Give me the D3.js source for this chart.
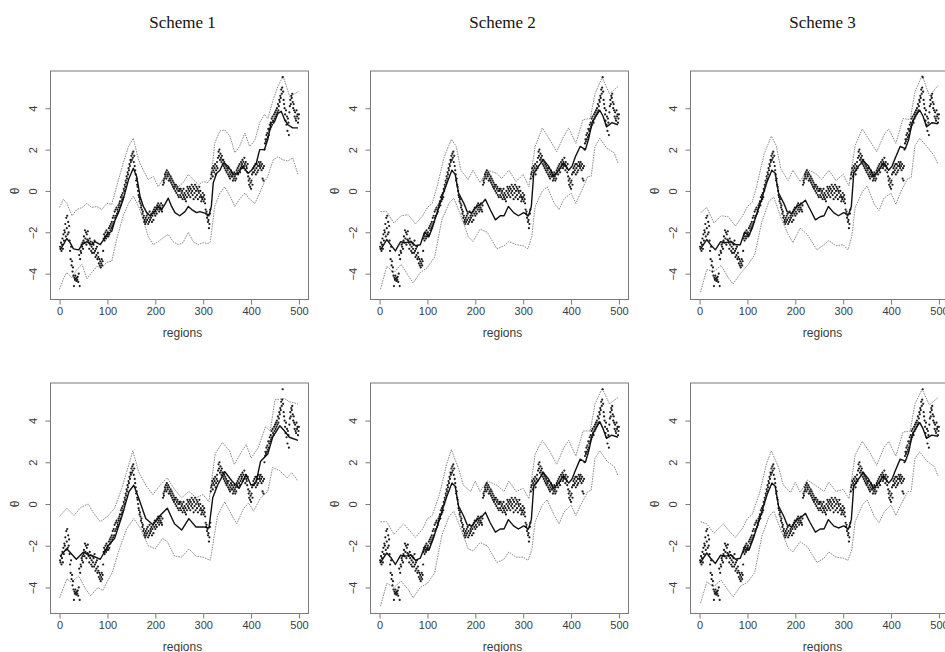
<!DOCTYPE html>
<html>
<head>
<meta charset="utf-8">
<script src="https://cdn.jsdelivr.net/npm/d3@7"></script>
<style>
  body { margin: 0; background: #fff; }
  svg { display: block; }
</style>
</head>
<body>
<svg id="chart" width="945" height="652"></svg>
<script>
// Column headings
const schemeTitles = ["Scheme 1", "Scheme 2", "Scheme 3"];
const xTicks = [0, 100, 200, 300, 400, 500];
const yTicks = [-4, -2, 0, 2, 4];
const xLabel = "regions";
const yLabel = "θ";

// True theta for regions 1..500 (dots)
const trueTheta = [
  -2.7,-2.8,-2.5,-2.9,-2.6,-2.3,-2.8,-2.1,-2.4,-1.9,
  -2.0,-1.6,-2.2,-1.3,-1.8,-1.2,-2.1,-1.5,-2.0,-1.7,
  -2.4,-2.9,-3.3,-2.7,-3.6,-3.4,-3.9,-3.7,-4.1,-4.6,
  -4.2,-4.3,-4.1,-4.25,-4.35,-4.2,-4.3,-4.15,-4.4,-4.0,
  -3.1,-4.6,-3.3,-2.9,-3.0,-2.6,-2.7,-2.5,-2.8,-2.4,
  -2.2,-2.5,-1.9,-2.3,-2.0,-2.6,-2.1,-2.35,-1.95,-2.4,
  -2.5,-2.8,-2.3,-2.6,-2.45,-2.9,-2.7,-3.0,-2.5,-2.8,
  -2.6,-3.0,-2.4,-2.9,-3.2,-2.8,-3.1,-2.7,-3.3,-3.0,
  -3.2,-3.5,-3.3,-3.6,-3.4,-3.7,-3.5,-3.3,-3.6,-3.4,
  -2.9,-2.3,-2.1,-2.4,-2.2,-2.0,-2.3,-1.9,-2.2,-2.1,
  -2.0,-2.2,-1.8,-2.1,-1.7,-1.9,-1.6,-1.8,-1.5,-1.7,
  -1.3,-1.6,-1.2,-1.5,-1.0,-1.3,-0.9,-1.2,-0.8,-1.1,
  -0.9,-1.0,-0.7,-0.8,-0.6,-0.5,-0.7,-0.3,-0.5,-0.2,
  -0.4,-0.1,-0.3,0.1,0.0,0.3,0.2,0.5,0.4,0.7,
  0.6,0.9,0.8,1.1,1.0,1.3,1.2,1.5,1.4,1.7,
  1.5,1.8,1.6,1.9,1.4,1.7,1.2,1.0,0.8,0.5,
  0.6,0.3,0.2,0.0,-0.2,-0.3,-0.5,-0.4,-0.6,-0.8,
  -0.7,-0.9,-1.1,-1.0,-1.3,-1.2,-1.5,-1.4,-1.6,-1.3,
  -1.5,-1.2,-1.4,-1.1,-1.6,-1.3,-1.5,-1.0,-1.4,-1.2,
  -1.3,-1.1,-1.5,-1.2,-1.0,-1.4,-0.9,-1.1,-0.8,-1.2,
  -1.0,-0.8,-1.1,-0.7,-0.9,-0.6,-0.8,-1.0,-0.7,-0.9,
  -0.8,-0.6,-0.9,-1.0,-0.7,0.3,0.5,0.4,0.6,0.8,
  0.7,0.9,0.6,1.0,0.8,0.7,0.9,0.5,0.8,0.6,
  0.5,0.7,0.4,0.6,0.3,0.5,0.2,0.4,0.1,0.3,
  0.2,0.0,0.3,-0.1,0.1,0.2,-0.2,0.0,-0.3,0.1,
  0.0,-0.2,0.1,-0.3,-0.1,0.0,-0.4,-0.2,0.1,-0.3,
  -0.1,-0.4,-0.2,-0.5,0.0,-0.3,0.2,-0.1,0.1,-0.2,
  0.0,0.2,-0.3,0.1,-0.1,0.3,0.0,-0.2,0.2,-0.4,
  0.1,-0.1,0.3,-0.3,0.0,0.2,-0.2,0.1,-0.4,0.0,
  -0.1,0.2,-0.3,0.0,-0.2,-0.5,-0.3,-0.4,-0.1,-0.3,
  -0.5,-0.2,-0.4,-0.6,-0.9,-1.1,-1.0,-1.3,-1.2,-1.5,
  -1.4,-1.8,-1.6,-1.1,-0.9,0.6,0.8,0.9,1.1,0.7,
  1.0,1.2,0.9,1.1,1.3,0.8,1.0,1.2,1.4,1.1,
  1.6,1.9,1.7,2.0,1.5,1.8,1.6,1.4,1.7,1.5,
  1.3,1.5,1.2,1.4,1.1,1.3,1.0,1.2,0.9,1.1,
  1.0,0.8,1.1,0.7,0.9,0.6,0.8,1.0,0.7,0.9,
  0.7,0.5,0.8,0.6,0.9,0.7,0.5,0.8,0.6,1.0,
  0.9,1.1,0.8,1.2,1.0,1.3,0.9,1.1,1.4,1.2,
  1.3,1.5,1.1,1.4,1.2,1.6,1.3,1.0,1.4,1.2,
  1.1,0.9,1.3,0.7,0.5,0.3,0.6,0.2,0.4,0.1,
  0.5,0.8,0.3,0.9,1.1,0.9,1.2,1.0,1.3,0.8,
  1.1,1.3,0.9,1.2,1.0,1.4,1.2,1.3,1.1,1.4,
  1.2,1.0,1.3,0.6,1.1,0.5,1.2,2.0,2.3,2.5,
  2.4,2.7,2.5,2.8,2.6,3.0,2.7,2.9,3.2,3.0,
  3.3,3.1,3.5,3.2,3.6,3.4,3.3,3.7,3.5,3.8,
  3.6,3.9,3.7,4.0,3.8,4.2,3.9,4.1,4.4,4.3,
  4.6,4.5,4.9,4.7,5.0,5.5,4.8,4.4,4.2,4.0,
  3.7,3.4,3.9,3.2,3.6,2.9,3.5,3.3,2.7,3.8,
  4.1,4.4,4.2,4.6,4.5,4.7,4.3,4.0,4.2,3.9,
  3.6,3.8,3.5,3.4,3.9,3.6,3.7,3.3,3.5,3.7
];

// Posterior summaries as [region, value] pairs
const top1Mean = [[1,-2.85],[8,-2.6],[15,-2.3],[22,-2.5],[29,-2.8],[40,-2.85],[47,-2.6],[57,-2.45],[67,-2.6],[74,-2.45],[85,-2.6],[92,-2.35],[99,-2.1],[109,-1.95],[116,-1.4],[123,-1.05],[133,-0.4],[144,0.55],[154,1.1],[161,0.7],[168,-0.25],[175,-0.75],[182,-1.05],[189,-1.2],[199,-0.98],[206,-0.75],[213,-0.9],[220,-0.65],[227,-0.35],[234,-0.75],[241,-1.05],[251,-1.2],[262,-1.0],[269,-0.75],[276,-0.9],[286,-1.05],[293,-1.0],[300,-1.05],[307,-1.1],[312,-1.2],[317,-0.75],[321,0.4],[328,0.85],[335,1.0],[342,1.35],[352,1.2],[362,0.8],[373,0.85],[383,1.2],[394,0.85],[401,1.0],[411,1.35],[418,2.0],[428,2.0],[435,2.5],[442,3.3],[449,3.35],[456,3.75],[463,3.85],[470,3.45],[477,3.2],[487,3.05],[498,3.05]];
const top1Upper = [[0,-0.8],[8,-0.4],[15,-0.6],[26,-1.2],[36,-0.9],[47,-0.8],[57,-0.6],[67,-0.8],[78,-0.75],[88,-0.9],[99,-0.6],[109,-0.65],[119,0.2],[133,1.35],[144,2.15],[154,2.55],[165,1.5],[175,1.0],[185,0.55],[196,0.7],[206,0.2],[217,0.6],[227,0.85],[237,0.45],[248,0.2],[258,0.4],[269,0.8],[279,0.55],[290,0.3],[300,0.45],[310,0.4],[317,0.7],[324,2.3],[335,2.9],[345,2.95],[356,2.65],[366,1.85],[376,2.15],[387,2.8],[397,2.15],[408,2.45],[418,3.3],[428,3.7],[435,3.5],[446,4.4],[456,5.05],[467,5.55],[474,5.05],[481,4.55],[491,4.7],[499,4.8]];
const top1Lower = [[0,-4.75],[8,-4.25],[15,-3.95],[26,-4.2],[36,-3.8],[47,-3.55],[57,-4.25],[67,-3.95],[78,-3.65],[88,-3.7],[99,-3.45],[109,-3.4],[119,-2.35],[133,-1.2],[144,-0.6],[154,-0.25],[165,-0.75],[175,-1.4],[185,-2.2],[196,-2.6],[206,-2.45],[217,-2.25],[227,-2.1],[237,-2.45],[248,-2.6],[258,-2.5],[269,-2.0],[279,-2.45],[290,-2.6],[300,-2.5],[310,-2.55],[315,-2.45],[324,-0.75],[335,-0.1],[345,0.2],[356,-0.25],[366,-0.75],[376,-0.4],[387,-0.1],[397,-0.4],[408,-0.6],[418,-0.1],[428,0.45],[435,0.7],[446,1.5],[456,1.65],[467,1.5],[477,1.45],[487,1.6],[498,0.8]];

const top2Mean = [[2,-2.85],[15,-2.35],[23,-2.6],[33,-2.9],[44,-2.45],[54,-2.5],[65,-2.45],[75,-2.65],[85,-2.6],[94,-2.0],[103,-2.2],[110,-1.8],[120,-1.05],[131,-0.25],[141,0.4],[151,1.0],[158,0.8],[165,-0.1],[176,-0.6],[183,-1.0],[193,-1.05],[203,-0.75],[214,-0.6],[221,-0.4],[231,-0.9],[242,-1.4],[252,-1.2],[260,-1.2],[269,-0.75],[280,-1.05],[290,-1.2],[301,-1.05],[311,-1.2],[317,-0.75],[322,0.85],[332,1.2],[342,1.5],[353,1.2],[363,0.7],[374,1.0],[384,1.35],[395,1.0],[402,1.2],[409,1.65],[419,2.15],[430,2.0],[437,2.55],[444,3.3],[451,3.6],[460,3.9],[467,3.6],[474,3.1],[485,3.3],[498,3.2]];
const top2Upper = [[2,-1.0],[15,-1.0],[30,-1.55],[45,-1.2],[60,-1.15],[75,-1.6],[90,-1.2],[100,-0.8],[110,-0.6],[120,0.2],[135,1.65],[150,2.5],[160,2.15],[170,1.0],[185,0.55],[195,1.0],[210,0.4],[225,1.0],[245,0.85],[255,0.6],[270,1.0],[285,0.45],[300,0.8],[312,0.2],[325,2.15],[340,3.05],[355,2.5],[370,1.9],[385,2.65],[395,3.05],[410,2.3],[425,3.45],[440,3.5],[450,4.7],[465,5.5],[480,4.7],[498,5.05]];
const top2Lower = [[2,-4.75],[15,-3.65],[30,-3.95],[45,-3.55],[60,-4.1],[70,-4.45],[85,-3.95],[100,-3.7],[115,-3.2],[130,-1.4],[145,-0.6],[155,-0.35],[170,-1.2],[185,-2.2],[195,-2.45],[210,-1.85],[225,-2.0],[245,-2.8],[260,-2.65],[270,-2.45],[285,-2.6],[300,-2.65],[310,-2.8],[318,-2.2],[325,-0.75],[340,0.0],[350,0.2],[365,-0.6],[375,-0.9],[385,-0.4],[400,-0.1],[410,-0.6],[420,-0.1],[435,0.7],[442,0.7],[450,2.15],[460,2.55],[475,2.05],[490,1.85],[498,1.35]];

const top3Mean = [[2,-2.8],[15,-2.35],[23,-2.6],[33,-2.85],[44,-2.45],[54,-2.5],[65,-2.45],[75,-2.6],[85,-2.6],[94,-2.0],[103,-2.15],[110,-1.8],[120,-1.05],[131,-0.3],[141,0.45],[151,1.0],[158,0.85],[165,-0.1],[176,-0.6],[183,-1.0],[193,-1.1],[203,-0.75],[214,-0.6],[221,-0.45],[231,-0.9],[242,-1.4],[252,-1.25],[260,-1.2],[269,-0.75],[280,-1.05],[290,-1.2],[301,-1.05],[311,-1.15],[317,-0.75],[322,0.85],[332,1.2],[342,1.45],[353,1.2],[363,0.7],[374,1.0],[384,1.35],[395,1.0],[402,1.2],[409,1.6],[419,2.15],[430,2.05],[437,2.5],[444,3.3],[451,3.65],[460,3.9],[467,3.6],[474,3.1],[485,3.3],[498,3.25]];
const top3Upper = [[2,-1.05],[15,-0.8],[30,-1.55],[45,-1.2],[60,-1.25],[75,-1.7],[90,-1.2],[100,-0.75],[110,-0.55],[120,0.3],[135,1.8],[150,2.65],[160,2.2],[170,1.05],[185,0.5],[195,1.0],[210,0.45],[225,1.05],[245,0.8],[255,0.55],[270,1.0],[285,0.5],[300,0.8],[312,0.25],[325,2.2],[340,3.0],[355,2.45],[370,1.9],[385,2.7],[395,3.0],[410,2.3],[425,3.5],[440,3.45],[450,4.8],[465,5.6],[480,4.6],[498,5.1]];
const top3Lower = [[2,-4.9],[15,-3.8],[30,-3.9],[45,-3.6],[60,-4.2],[70,-4.5],[85,-4.0],[100,-3.6],[115,-3.1],[130,-1.5],[145,-0.5],[155,-0.3],[170,-1.3],[185,-2.1],[195,-2.5],[210,-1.8],[225,-2.1],[245,-2.85],[260,-2.6],[270,-2.4],[285,-2.65],[300,-2.6],[310,-2.85],[318,-2.2],[325,-0.8],[340,-0.05],[350,0.25],[365,-0.65],[375,-0.95],[385,-0.35],[400,-0.1],[410,-0.65],[420,-0.05],[435,0.6],[442,0.65],[450,2.2],[460,2.55],[480,2.0],[490,1.7],[498,1.3]];

const bot1Mean = [[1,-2.5],[15,-2.15],[35,-2.65],[50,-2.3],[60,-2.45],[70,-2.5],[85,-2.65],[100,-2.05],[115,-1.65],[130,-0.6],[145,0.6],[155,0.9],[165,0.3],[180,-0.7],[195,-1.0],[210,-0.55],[225,-0.2],[240,-0.95],[255,-1.25],[270,-0.7],[285,-1.1],[300,-1.1],[312,-1.15],[320,0.3],[330,0.9],[345,1.55],[360,1.1],[375,0.75],[390,1.4],[400,0.9],[410,1.0],[420,2.05],[435,2.4],[445,3.2],[460,3.75],[470,3.5],[480,3.2],[498,3.05]];
const bot1Upper = [[0,-0.6],[15,-0.2],[30,-0.55],[45,-0.15],[60,0.0],[70,-0.4],[85,-0.85],[100,-0.6],[115,-0.2],[130,0.75],[145,1.9],[153,2.55],[165,1.55],[180,0.9],[195,0.45],[210,0.9],[225,1.25],[240,0.7],[255,0.3],[270,0.6],[285,0.3],[300,0.45],[312,0.1],[325,2.4],[340,2.95],[355,2.55],[365,1.9],[380,2.5],[390,2.85],[400,2.2],[415,2.7],[430,3.7],[440,3.5],[450,5.0],[470,5.05],[480,4.9],[498,4.8]];
const bot1Lower = [[0,-4.5],[15,-3.6],[25,-3.75],[40,-3.45],[55,-4.1],[65,-4.4],[80,-4.0],[90,-4.15],[100,-3.7],[110,-3.3],[125,-2.15],[140,-1.2],[155,-0.7],[170,-1.2],[185,-2.0],[200,-2.15],[215,-1.65],[225,-1.8],[240,-2.5],[255,-2.55],[270,-2.15],[285,-2.5],[300,-2.55],[315,-2.7],[330,-0.55],[345,0.1],[360,-0.55],[370,-0.95],[385,-0.2],[395,0.05],[405,-0.35],[420,0.3],[435,0.6],[445,1.75],[460,1.6],[475,1.25],[485,1.5],[498,1.1]];

const bot2Mean = [[2,-2.8],[15,-2.35],[23,-2.55],[33,-2.9],[44,-2.45],[54,-2.5],[65,-2.45],[75,-2.7],[85,-2.6],[94,-2.05],[103,-2.2],[110,-1.8],[120,-1.1],[131,-0.3],[141,0.4],[151,1.0],[158,0.85],[165,-0.1],[176,-0.6],[183,-1.0],[193,-1.05],[203,-0.75],[214,-0.6],[221,-0.4],[231,-0.9],[242,-1.35],[252,-1.2],[260,-1.2],[269,-0.75],[280,-1.05],[290,-1.2],[301,-1.05],[311,-1.2],[317,-0.75],[322,0.85],[332,1.15],[342,1.5],[353,1.2],[363,0.75],[374,1.0],[384,1.35],[395,1.0],[402,1.2],[409,1.6],[419,2.15],[430,2.0],[437,2.55],[444,3.3],[451,3.6],[460,3.95],[467,3.6],[474,3.15],[485,3.3],[498,3.2]];
const bot2Upper = [[2,-0.85],[15,-0.85],[30,-1.45],[50,-0.95],[60,-1.2],[75,-1.6],[90,-1.2],[100,-0.7],[110,-0.55],[125,0.45],[140,1.9],[150,2.6],[165,1.7],[175,0.9],[190,0.6],[200,1.1],[210,0.6],[225,1.1],[245,0.9],[260,0.6],[270,1.1],[285,0.6],[300,0.75],[312,0.25],[325,2.4],[340,3.05],[355,2.55],[370,1.9],[385,2.7],[395,3.05],[410,2.3],[425,3.5],[440,3.5],[450,4.8],[465,5.55],[480,4.8],[498,5.1]];
const bot2Lower = [[2,-4.9],[15,-3.8],[30,-4.0],[45,-3.7],[60,-4.1],[70,-4.5],[85,-4.0],[100,-3.8],[115,-3.3],[130,-1.5],[145,-0.6],[155,-0.35],[170,-1.2],[185,-2.15],[195,-2.25],[210,-1.85],[225,-2.0],[245,-2.8],[260,-2.65],[270,-2.3],[285,-2.55],[300,-2.55],[310,-2.7],[318,-2.2],[325,-0.85],[340,-0.05],[350,0.2],[365,-0.55],[375,-0.95],[385,-0.4],[400,-0.05],[410,-0.55],[420,-0.05],[435,0.6],[442,0.65],[450,2.2],[460,2.55],[475,2.05],[490,1.8],[498,1.35]];

const bot3Mean = [[2,-2.8],[15,-2.35],[23,-2.6],[33,-2.85],[44,-2.45],[54,-2.5],[65,-2.45],[75,-2.65],[85,-2.6],[94,-2.05],[103,-2.2],[110,-1.8],[120,-1.1],[131,-0.3],[141,0.45],[151,1.0],[158,0.85],[165,-0.1],[176,-0.6],[183,-1.0],[193,-1.1],[203,-0.75],[214,-0.6],[221,-0.45],[231,-0.9],[242,-1.35],[252,-1.2],[260,-1.2],[269,-0.75],[280,-1.05],[290,-1.15],[301,-1.05],[311,-1.2],[317,-0.75],[322,0.85],[332,1.2],[342,1.5],[353,1.2],[363,0.75],[374,1.0],[384,1.35],[395,1.0],[402,1.2],[409,1.6],[419,2.15],[430,2.05],[437,2.5],[444,3.3],[451,3.6],[460,3.9],[467,3.6],[474,3.15],[485,3.3],[498,3.25]];
const bot3Upper = [[2,-0.85],[15,-0.95],[30,-1.4],[50,-0.95],[60,-1.25],[75,-1.6],[90,-1.15],[100,-0.7],[110,-0.5],[125,0.5],[140,1.95],[150,2.55],[165,1.75],[175,0.9],[190,0.55],[200,1.05],[210,0.55],[225,1.15],[245,0.85],[260,0.6],[270,1.05],[285,0.6],[300,0.7],[312,0.25],[325,2.35],[340,3.0],[355,2.5],[370,1.85],[385,2.7],[395,3.0],[410,2.3],[425,3.45],[440,3.5],[450,4.8],[465,5.5],[480,4.75],[498,5.1]];
const bot3Lower = [[2,-4.75],[15,-3.75],[30,-3.95],[45,-3.65],[60,-4.15],[70,-4.45],[85,-3.95],[100,-3.75],[115,-3.3],[130,-1.55],[145,-0.6],[155,-0.35],[170,-1.25],[185,-2.1],[195,-2.3],[210,-1.8],[225,-2.05],[245,-2.8],[260,-2.6],[270,-2.3],[285,-2.55],[300,-2.6],[310,-2.7],[318,-2.2],[325,-0.85],[340,-0.05],[350,0.2],[365,-0.6],[375,-0.9],[385,-0.4],[400,-0.05],[410,-0.55],[420,-0.05],[435,0.6],[442,0.6],[450,2.2],[460,2.5],[475,2.05],[490,1.8],[498,1.35]];

const panels = [
  { row: 0, col: 0, mean: top1Mean, upper: top1Upper, lower: top1Lower },
  { row: 0, col: 1, mean: top2Mean, upper: top2Upper, lower: top2Lower },
  { row: 0, col: 2, mean: top3Mean, upper: top3Upper, lower: top3Lower },
  { row: 1, col: 0, mean: bot1Mean, upper: bot1Upper, lower: bot1Lower },
  { row: 1, col: 1, mean: bot2Mean, upper: bot2Upper, lower: bot2Lower },
  { row: 1, col: 2, mean: bot3Mean, upper: bot3Upper, lower: bot3Lower }
];

// Layout of the plotting boxes
const colLeft = [50.5, 370.5, 690.5];
const boxW = 258;
const rowTop = [71, 383];
const boxH = [228.5, 230.5];
const xDomain = [-18.96, 519.96];
const yDomain = [-5.25, 5.8];

const svg = d3.select("#chart");
const axisColor = "#7a7a7a";
const textColor = "#3a3a3a";
const sans = "'Liberation Sans', Arial, Helvetica, sans-serif";

// Column titles
svg.selectAll("text.title")
  .data(schemeTitles)
  .join("text")
  .attr("class", "title")
  .attr("x", (d, i) => colLeft[i] + boxW / 2 + 3)
  .attr("y", 28)
  .attr("text-anchor", "middle")
  .attr("font-family", "'Liberation Serif', 'DejaVu Serif', serif")
  .attr("font-size", 17)
  .attr("fill", "#111")
  .text(d => d);

panels.forEach(p => {
  const left = colLeft[p.col];
  const top = rowTop[p.row];
  const h = boxH[p.row];
  const x = d3.scaleLinear().domain(xDomain).range([left, left + boxW]);
  const y = d3.scaleLinear().domain(yDomain).range([top + h, top]);
  const g = svg.append("g");

  // frame
  g.append("rect")
    .attr("x", left).attr("y", top)
    .attr("width", boxW).attr("height", h)
    .attr("fill", "none").attr("stroke", axisColor).attr("stroke-width", 1);

  // x axis
  const xAxis = d3.axisBottom(x).tickValues(xTicks).tickSize(5).tickPadding(3);
  const gx = g.append("g").attr("transform", `translate(0,${top + h})`).call(xAxis);
  gx.select(".domain").attr("stroke", axisColor)
    .attr("d", `M${x(xTicks[0])},0H${x(xTicks[xTicks.length - 1])}`);
  gx.selectAll(".tick line").attr("stroke", axisColor);
  gx.selectAll(".tick text").attr("font-family", sans).attr("font-size", 11).attr("fill", textColor);

  // y axis with rotated labels
  const yAxis = d3.axisLeft(y).tickValues(yTicks).tickSize(5).tickFormat(d3.format("d"));
  const gy = g.append("g").attr("transform", `translate(${left},0)`).call(yAxis);
  gy.select(".domain").attr("stroke", axisColor)
    .attr("d", `M0,${y(yTicks[0])}V${y(yTicks[yTicks.length - 1])}`);
  gy.selectAll(".tick line").attr("stroke", axisColor);
  gy.selectAll(".tick text")
    .attr("font-family", sans).attr("font-size", 11).attr("fill", textColor)
    .attr("x", null).attr("dy", null)
    .attr("text-anchor", "middle")
    .attr("transform", "translate(-14,0) rotate(-90)");

  // axis titles
  g.append("text")
    .attr("x", left + boxW / 2 + 3).attr("y", top + h + 37)
    .attr("text-anchor", "middle")
    .attr("font-family", sans).attr("font-size", 12).attr("fill", textColor)
    .text(xLabel);
  g.append("text")
    .attr("transform", `translate(${left - 32},${y(0)}) rotate(-90)`)
    .attr("text-anchor", "middle")
    .attr("font-family", sans).attr("font-size", 12).attr("fill", textColor)
    .text(yLabel);

  const line = d3.line().x(d => x(d[0])).y(d => y(d[1]));

  // credible bounds (dotted)
  [p.upper, p.lower].forEach(b => {
    g.append("path")
      .attr("d", line(b))
      .attr("fill", "none")
      .attr("stroke", "#8c8c8c")
      .attr("stroke-width", 1)
      .attr("stroke-dasharray", "1.6,1");
  });

  // true values
  g.append("g").selectAll("circle")
    .data(trueTheta)
    .join("circle")
    .attr("cx", (d, i) => x(i + 1))
    .attr("cy", d => y(d))
    .attr("r", 1.1)
    .attr("fill", "#1a1a1a");

  // posterior mean
  g.append("path")
    .attr("d", line(p.mean))
    .attr("fill", "none")
    .attr("stroke", "#111")
    .attr("stroke-width", 1.4)
    .attr("stroke-linejoin", "round");
});
</script>
</body>
</html>
